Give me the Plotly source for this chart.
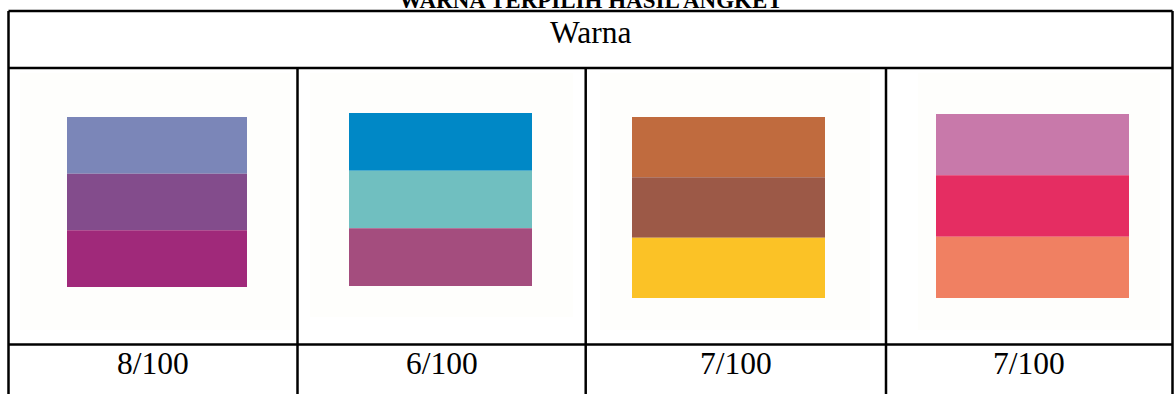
import plotly.graph_objects as go

# ---- data ----
title_text = "WARNA TERPILIH HASIL ANGKET"
header_text = "Warna"
scores = ["8/100", "6/100", "7/100", "7/100"]
band_colors = [
    ["#7B86B8", "#834C8C", "#A0297A"],
    ["#0088C6", "#70BFC0", "#A44D7E"],
    ["#C06B3E", "#9C5947", "#FBC226"],
    ["#C879AA", "#E52D62", "#F08062"],
]

# ---- layout geometry (pixels) ----
W, H = 1174, 394
col_edges = [8.5, 297.5, 585.7, 886, 1172.5]
top_y, head_y, row_y, bot_y = 11, 68, 344.5, 400
swatch_boxes = [  # x0, x1, y0, y1
    (67, 247, 117, 287),
    (349, 532, 113, 286),
    (632, 825, 117, 298),
    (936, 1129, 114, 298),
]
bg_boxes = [
    (20, 290, 73, 330),
    (310, 573, 73, 317),
    (600, 870, 73, 330),
    (918, 1160, 73, 330),
]

FONT = "Liberation Serif, Times New Roman, serif"
line = dict(color="black", width=2.5)
shapes = []

# off-white image backgrounds
for (x0, x1, y0, y1) in bg_boxes:
    shapes.append(dict(type="rect", x0=x0, x1=x1, y0=y0, y1=y1,
                       fillcolor="#FEFEFC", line=dict(width=0), layer="below"))

# swatches
for (x0, x1, y0, y1), cols in zip(swatch_boxes, band_colors):
    n = len(cols)
    h = (y1 - y0) / n
    for i, c in enumerate(cols):
        shapes.append(dict(type="rect", x0=x0, x1=x1, y0=y0 + i * h, y1=y0 + (i + 1) * h,
                           fillcolor=c, line=dict(width=0)))

# table lines
for y in (top_y, head_y, row_y):
    shapes.append(dict(type="line", x0=col_edges[0], x1=col_edges[-1], y0=y, y1=y, line=line))
shapes.append(dict(type="line", x0=col_edges[0], x1=col_edges[0], y0=top_y, y1=bot_y, line=line))
shapes.append(dict(type="line", x0=col_edges[-1], x1=col_edges[-1], y0=top_y, y1=bot_y, line=line))
for x in col_edges[1:-1]:
    shapes.append(dict(type="line", x0=x, x1=x, y0=head_y, y1=bot_y, line=line))

annotations = [
    dict(x=(col_edges[0] + col_edges[-1]) / 2, y=15, text="<b>" + title_text + "</b>",
         showarrow=False, xanchor="center", yanchor="bottom",
         font=dict(family=FONT, size=23, color="black")),
    dict(x=(col_edges[0] + col_edges[-1]) / 2, y=32.5, text=header_text,
         showarrow=False, xanchor="center", yanchor="middle",
         font=dict(family=FONT, size=31.5, color="black")),
]
for i, s in enumerate(scores):
    annotations.append(dict(x=(col_edges[i] + col_edges[i + 1]) / 2, y=363, text=s,
                            showarrow=False, xanchor="center", yanchor="middle",
                            font=dict(family=FONT, size=31.5, color="black")))

fig = go.Figure()
fig.update_layout(
    width=W, height=H,
    margin=dict(l=0, r=0, t=0, b=0),
    paper_bgcolor="white", plot_bgcolor="white",
    xaxis=dict(range=[0, W], visible=False, fixedrange=True),
    yaxis=dict(range=[H, 0], visible=False, fixedrange=True),
    shapes=shapes, annotations=annotations, showlegend=False,
)
fig.write_html("out.html", config={"displayModeBar": False},
               post_script="document.body.style.margin='0';document.body.style.overflow='hidden';")
